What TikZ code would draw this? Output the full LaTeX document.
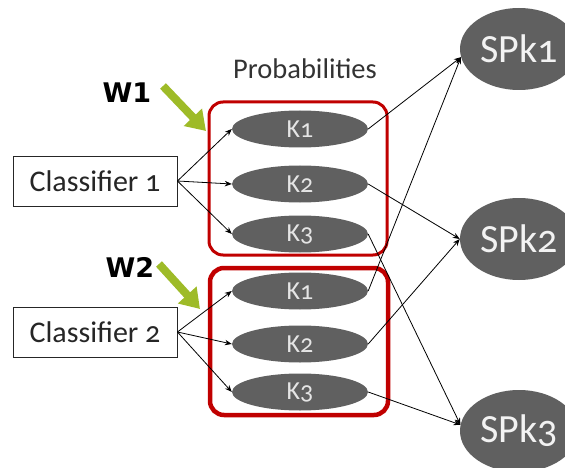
\documentclass[tikz,border=0pt]{standalone}
\usepackage{fontspec}
\setmainfont{Carlito}[Numbers=OldStyle]
\newfontfamily\wfont{DejaVu Sans}
\usetikzlibrary{arrows.meta,shapes.geometric}
\definecolor{kgray}{RGB}{96,96,96}
\definecolor{boxred}{RGB}{192,0,0}
\definecolor{wgreen}{RGB}{158,187,40}
\begin{document}
\begin{tikzpicture}[x=1pt,y=-1pt,
  cls/.style={draw=black!85, line width=0.9pt, minimum width=164pt, minimum height=50pt, inner sep=0pt, font=\fontsize{30}{36}\selectfont, text=black!85},
  kell/.style={ellipse, fill=kgray, minimum width=136pt, minimum height=37pt, inner sep=0pt, text=white!90!black, font=\fontsize{26}{28}\selectfont},
  spell/.style={ellipse, fill=kgray, minimum width=118pt, minimum height=82pt, inner sep=0pt, text=white!95!black, font=\fontsize{40}{44}\selectfont},
  conn/.style={-{Stealth[length=7pt,width=5.5pt]}, line width=0.8pt, black},
  redbox/.style={draw=boxred, rounded corners=14pt},
  warrow/.style={-{Triangle[length=19pt,width=24pt]}, line width=8pt, wgreen},
  wlab/.style={font=\wfont\bfseries\fontsize{27}{30}\selectfont}
]
\useasboundingbox (0,0) rectangle (565,468);
% red frames
\draw[redbox, line width=3pt] (209,102) rectangle (387,255);
\draw[redbox, line width=4.5pt] (210,268) rectangle (388,415);
% nodes
\node[cls] (c1) at (95,181) {Classifier 1};
\node[cls] (c2) at (95,332) {Classifier 2};
\node[kell] (a1) at (300,129) {K1};
\node[kell] (a2) at (300,184) {K2};
\node[kell] (a3) at (300,234) {K3};
\node[kell] (b1) at (300,291) {K1};
\node[kell] (b2) at (300,344) {K2};
\node[kell] (b3) at (300,392) {K3};
\node[spell] (s1) at (519,49) {SPk1};
\node[spell] (s2) at (519,239) {SPk2};
\node[spell] (s3) at (519,431) {SPk3};
\node[font=\fontsize{28.5}{32}\selectfont, text=black!80] (prob) at (305,69) {Probabilities};
\node[wlab] (w1) at (127,93) {W1};
\node[wlab] (w2) at (130,267) {W2};
% green arrows
\coordinate (g1s) at (163,86);
\coordinate (g1e) at (206,131);
\coordinate (g2s) at (159,264);
\coordinate (g2e) at (200,309);
\draw[warrow] (g1s) -- (g1e);
\draw[warrow] (g2s) -- (g2e);
% classifier connectors
\foreach \k in {a1,a2,a3} \draw[conn] (c1.east) -- (\k.west);
\foreach \k in {b1,b2,b3} \draw[conn] (c2.east) -- (\k.west);
% probability connectors
\draw[conn] (a1.east) -- (s1.188);
\draw[conn] (b1.east) -- (s1.188);
\draw[conn] (a2.east) -- (s2.west);
\draw[conn] (b2.east) -- (s2.west);
\draw[conn] (a3.east) -- (s3.174);
\draw[conn] (b3.east) -- (s3.174);
\end{tikzpicture}
\end{document}
